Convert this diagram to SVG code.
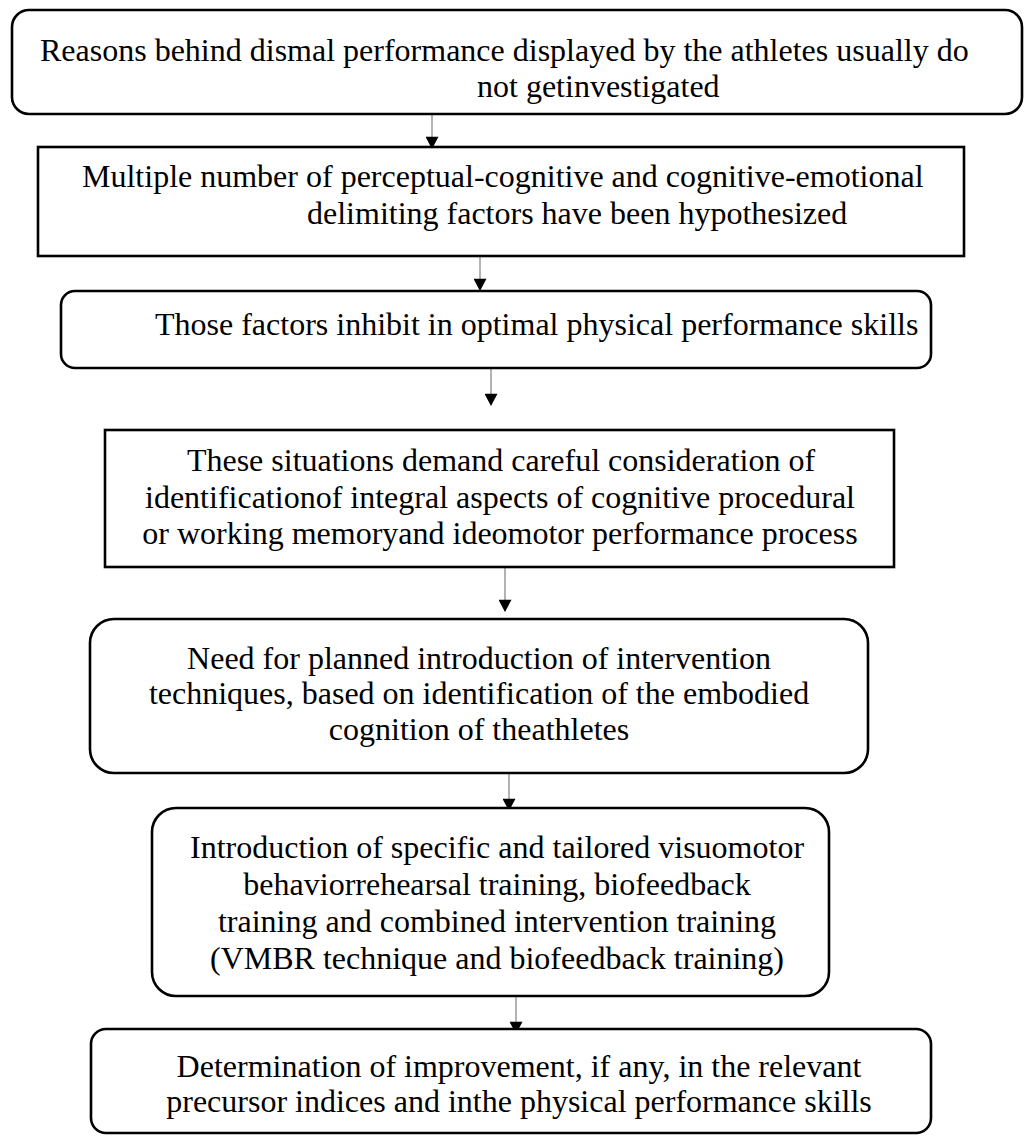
<svg xmlns="http://www.w3.org/2000/svg" width="1025" height="1136" viewBox="0 0 1025 1136">
<style>
.box{fill:#fff;stroke:#000;stroke-width:2.6}
.t{font-family:"Liberation Serif","Times New Roman",serif;font-size:32px;fill:#000}
.m{text-anchor:middle}
.c{stroke:#808080;stroke-width:1.2;fill:none}
</style>
<defs>
<marker id="ah" markerUnits="userSpaceOnUse" markerWidth="14" markerHeight="13" refX="12" refY="7" orient="auto" viewBox="0 0 13 14">
<path d="M0,0 L13,7 L0,14 Z" fill="#000"/>
</marker>
</defs>
<g id="connectors">
<line class="c" x1="432" y1="114" x2="432" y2="148" marker-end="url(#ah)"/>
<line class="c" x1="480" y1="256" x2="480" y2="290" marker-end="url(#ah)"/>
<line class="c" x1="491" y1="368" x2="491" y2="405" marker-end="url(#ah)"/>
<line class="c" x1="505" y1="568" x2="505" y2="611" marker-end="url(#ah)"/>
<line class="c" x1="509" y1="773" x2="509" y2="810" marker-end="url(#ah)"/>
<line class="c" x1="516" y1="996" x2="516" y2="1033" marker-end="url(#ah)"/>
</g>
<g id="n1">
<rect class="box" x="12" y="10" width="1010" height="104" rx="17"/>
<text class="t" x="40" y="61">Reasons behind dismal performance displayed by the athletes usually do</text>
<text class="t" x="477" y="97">not getinvestigated</text>
</g>
<g id="n2">
<rect class="box" x="38" y="147" width="926" height="109"/>
<text class="t" x="82" y="187">Multiple number of perceptual-cognitive and cognitive-emotional</text>
<text class="t" x="307" y="224">delimiting factors have been hypothesized</text>
</g>
<g id="n3">
<rect class="box" x="61" y="291" width="870" height="77" rx="14"/>
<text class="t" x="155" y="335">Those factors inhibit in optimal physical performance skills</text>
</g>
<g id="n4">
<rect class="box" x="105" y="430" width="789" height="137"/>
<text class="t m" x="501" y="471">These situations demand careful consideration of</text>
<text class="t m" x="500" y="508">identificationof integral aspects of cognitive procedural</text>
<text class="t m" x="500" y="544">or working memoryand ideomotor performance process</text>
</g>
<g id="n5">
<rect class="box" x="90" y="619" width="778" height="154" rx="24"/>
<text class="t m" x="479" y="669">Need for planned introduction of intervention</text>
<text class="t m" x="479" y="704">techniques, based on identification of the embodied</text>
<text class="t m" x="479" y="740">cognition of theathletes</text>
</g>
<g id="n6">
<rect class="box" x="152" y="808" width="677" height="188" rx="24"/>
<text class="t m" x="497" y="858">Introduction of specific and tailored visuomotor</text>
<text class="t m" x="497" y="895">behaviorrehearsal training, biofeedback</text>
<text class="t m" x="497" y="932">training and combined intervention training</text>
<text class="t m" x="497" y="969">(VMBR technique and biofeedback training)</text>
</g>
<g id="n7">
<rect class="box" x="91" y="1029" width="840" height="104" rx="15"/>
<text class="t m" x="519" y="1077">Determination of improvement, if any, in the relevant</text>
<text class="t m" x="519" y="1112">precursor indices and inthe physical performance skills</text>
</g>
</svg>
